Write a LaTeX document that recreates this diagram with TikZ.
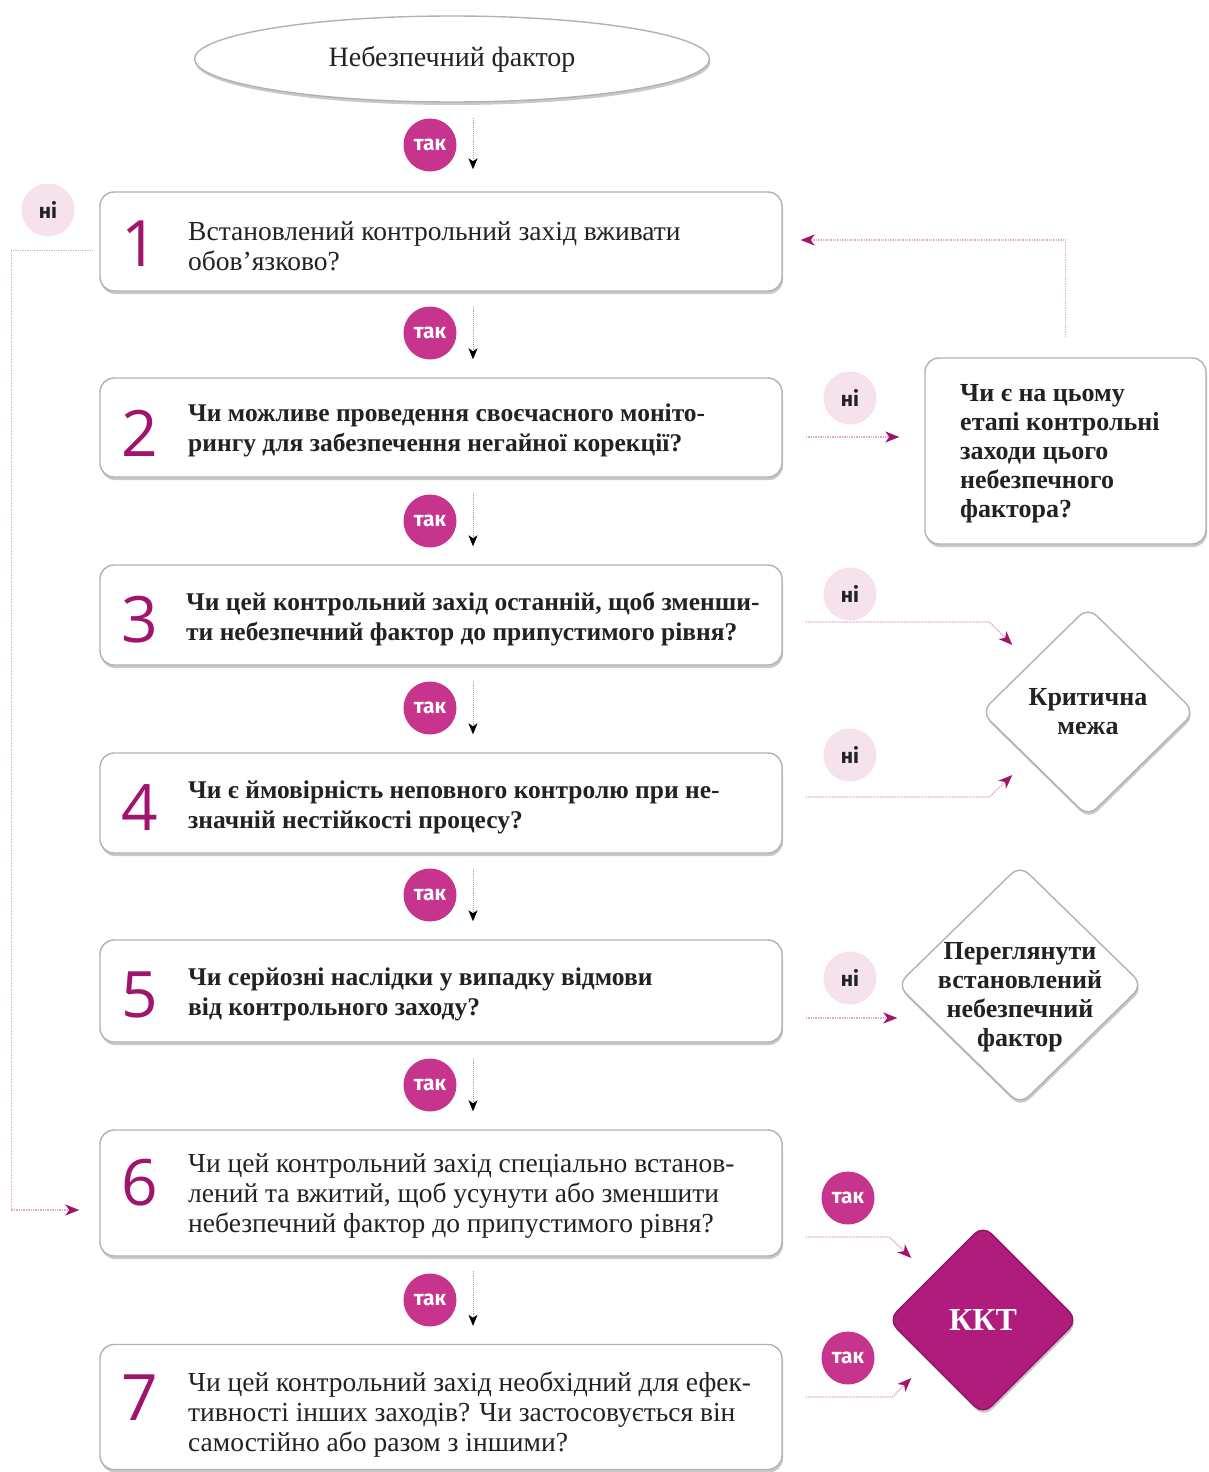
\documentclass[tikz,border=0pt]{standalone}
\usepackage{fontspec}
\setmainfont{Liberation Serif}
\newfontfamily\labfont{Fira Sans}
\newfontfamily\numfont{Open Sans}
\usetikzlibrary{shapes.geometric,shadows,arrows.meta,calc}
\definecolor{mag}{RGB}{198,52,142}
\definecolor{magdark}{RGB}{160,20,110}
\definecolor{kktc}{RGB}{176,28,124}
\definecolor{pinkl}{RGB}{245,226,237}
\definecolor{dotpink}{RGB}{228,170,202}
\definecolor{txt}{RGB}{34,34,34}
\tikzset{
  shad/.style={drop shadow={shadow xshift=1pt, shadow yshift=-3pt, opacity=0.35, fill=black!60}},
  qbox/.style={draw=gray!60, line width=1.4pt, fill=white, rounded corners=14pt, minimum width=682pt, shad},
  ellst/.style={ellipse, draw=gray!60, line width=1.4pt, fill=white, minimum width=515pt, minimum height=86pt, shad, text=txt},
  dia/.style={diamond, draw=gray!60, line width=1.4pt, fill=white, rounded corners=12pt, inner sep=0pt, shad},
  qtext/.style={align=left, text=txt, inner sep=0pt, font=\fontsize{27.5}{30}\selectfont},
  qtextb/.style={align=left, text=txt, inner sep=0pt, font=\fontsize{25.5}{30}\selectfont\bfseries},
  dtext/.style={align=center, text=txt, inner sep=0pt, font=\fontsize{26}{29}\selectfont\bfseries},
  numst/.style={text=magdark, inner sep=0pt, font=\numfont\fontsize{64}{64}\selectfont},
  yesc/.style={circle, fill=mag, minimum size=53pt, inner sep=0pt, text=white, font=\labfont\fontsize{21}{21}\selectfont\bfseries},
  noc/.style={circle, fill=pinkl, minimum size=53pt, inner sep=0pt, text=txt, font=\labfont\fontsize{21}{21}\selectfont\bfseries},
  downarr/.style={draw=gray!70, densely dotted, line width=0.9pt, -{Stealth[black, length=11pt, width=9pt, inset=3pt]}},
  sidearr/.style={draw=dotpink, densely dotted, line width=1.4pt, -{Stealth[magdark, length=14pt, width=11pt, inset=4pt]}},
}
\begin{document}
\begin{tikzpicture}[x=1pt,y=-1pt]
\useasboundingbox (0,0) rectangle (1209,1472);
\fill[white] (0,0) rectangle (1209,1472);

% start ellipse
\node[ellst] (ell) at (452,59) {\fontsize{28}{30}\selectfont Небезпечний фактор};

% question boxes
\node[qbox, minimum height=99pt] (b1) at (441,241.5) {};
\node[qbox, minimum height=99pt] (b2) at (441,427.5) {};
\node[qbox, minimum height=100pt] (b3) at (441,615) {};
\node[qbox, minimum height=100pt] (b4) at (441,803) {};
\node[qbox, minimum height=102pt] (b5) at (441,991) {};
\node[qbox, minimum height=126pt] (b6) at (441,1193) {};
\node[qbox, minimum height=125pt] (b7) at (441,1407) {};

\node[numst] (n1) at (140,244) {1};
\node[numst] (n2) at (140,433) {2};
\node[numst] (n3) at (140,620) {3};
\node[numst] (n4) at (140,808) {4};
\node[numst] (n5) at (140,995) {5};
\node[numst] (n6) at (140,1183) {6};
\node[numst] (n7) at (140,1398) {7};

\node[qtext, anchor=west] (t1) at (188,246) {Встановлений контрольний захід вживати\\обов’язково?};
\node[qtextb, anchor=west] (t2) at (188,430) {Чи можливе проведення своєчасного моніто-\\рингу для забезпечення негайної корекції?};
\node[qtextb, anchor=west] (t3) at (186,619.5) {Чи цей контрольний захід останній, щоб зменши-\\ти небезпечний фактор до припустимого рівня?};
\node[qtextb, anchor=west] (t4) at (188,807) {Чи є ймовірність неповного контролю при не-\\значній нестійкості процесу?};
\node[qtextb, anchor=west] (t5) at (188,994.5) {Чи серйозні наслідки у випадку відмови\\від контрольного заходу?};
\node[qtext, anchor=west] (t6) at (188,1196.5) {Чи цей контрольний захід спеціально встанов-\\лений та вжитий, щоб усунути або зменшити\\небезпечний фактор до припустимого рівня?};
\node[qtext, anchor=west] (t7) at (188,1415) {Чи цей контрольний захід необхідний для ефек-\\тивності інших заходів? Чи застосовується він\\самостійно або разом з іншими?};

% right question box
\node[qbox, minimum width=281pt, minimum height=186pt] (q) at (1065.5,451) {};
\node[dtext, align=left, anchor=west] (qt) at (960,454) {Чи є на цьому\\етапі контрольні\\заходи цього\\небезпечного\\фактора?};

% diamonds
\node[dia, minimum width=214pt, minimum height=210pt] (cm) at (1088,712) {};
\node[dtext] (cmt) at (1088,712) {Критична\\межа};
\node[dia, minimum width=246pt, minimum height=240pt] (rv) at (1020,985) {};
\node[dtext] (rvt) at (1020,997) {Переглянути\\встановлений\\небезпечний\\фактор};
\node[dia, fill=kktc, draw=kktc!80!black, minimum width=190pt, minimum height=190pt] (kkt) at (983,1320) {};
\node[text=white, font=\fontsize{32}{32}\selectfont\bfseries] (kktt) at (983,1320) {ККТ};

% yes / no circles
\node[yesc] (y0) at (430,145) {так};
\node[yesc] (y1) at (430,333) {так};
\node[yesc] (y2) at (430,521) {так};
\node[yesc] (y3) at (430,708) {так};
\node[yesc] (y4) at (430,895) {так};
\node[yesc] (y5) at (430,1085) {так};
\node[yesc] (y6) at (430,1300) {так};
\node[yesc] (y7) at (848,1198) {так};
\node[yesc] (y8) at (848,1358) {так};
\node[noc] (x0) at (48,210) {ні};
\node[noc] (x1) at (850,398) {ні};
\node[noc] (x2) at (850,594) {ні};
\node[noc] (x3) at (850,755) {ні};
\node[noc] (x4) at (850,978) {ні};

% down arrows
\draw[downarr] ($(ell.south)+(21,15)$) -- ($(b1.north)+(32,-22)$);
\draw[downarr] ($(b1.south)+(32,14)$) -- ($(b2.north)+(32,-18)$);
\draw[downarr] ($(b2.south)+(32,15)$) -- ($(b3.north)+(32,-18)$);
\draw[downarr] ($(b3.south)+(32,15)$) -- ($(b4.north)+(32,-18)$);
\draw[downarr] ($(b4.south)+(32,15)$) -- ($(b5.north)+(32,-18)$);
\draw[downarr] ($(b5.south)+(32,15)$) -- ($(b6.north)+(32,-18)$);
\draw[downarr] ($(b6.south)+(32,14)$) -- ($(b7.north)+(32,-18)$);

% side arrows
\draw[sidearr] ($(b2.east)+(23,9.5)$) -- ($(q.west)+(-25,-14)$);
\draw[sidearr] ($(q.north)+(0,-20)$) |- ($(b1.east)+(18,-1.5)$);
\draw[sidearr] ($(b3.east)+(23,7)$) -- ($(cm.west)+(9,-90)$) -- ($(cm.west)+(32,-67)$);
\draw[sidearr] ($(b4.east)+(23,-6)$) -- ($(cm.west)+(9,85)$) -- ($(cm.west)+(32,63)$);
\draw[sidearr] ($(b5.east)+(23,27)$) -- ($(rv.west)+(1,33)$);
\draw[sidearr] ($(b6.east)+(23,44)$) -- ($(kkt.west)+(2,-83)$) -- ($(kkt.west)+(24,-62)$);
\draw[sidearr] ($(b7.east)+(23,-10)$) -- ($(kkt.west)+(5,77)$) -- ($(kkt.west)+(24,58)$);
\draw[sidearr] ($(b1.west)+(-6,9)$) -- ++(-82,0) |- ($(b6.west)+(-20,17)$);
\end{tikzpicture}
\end{document}
